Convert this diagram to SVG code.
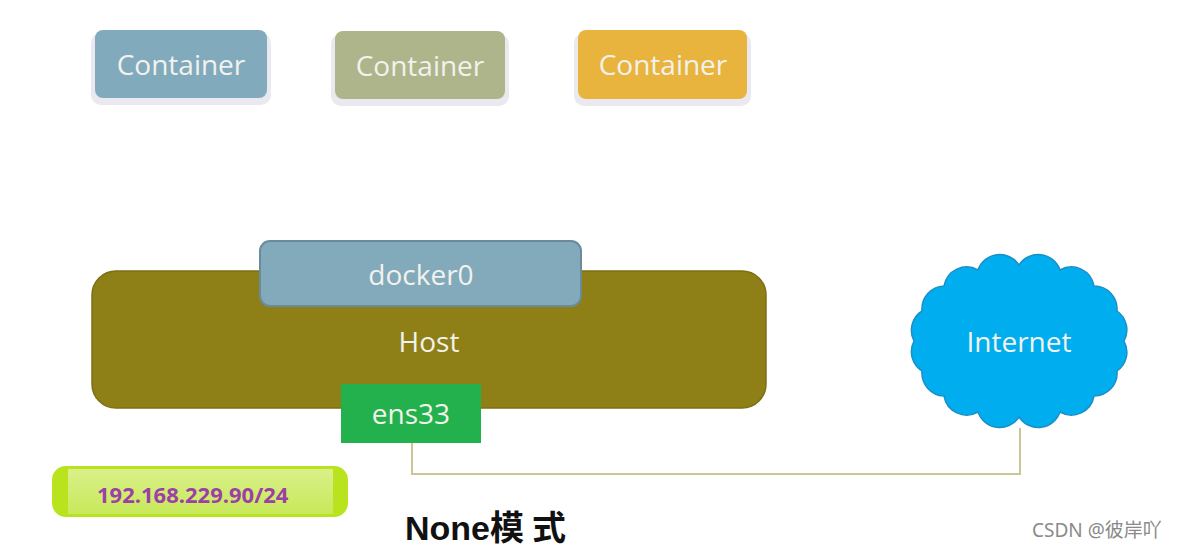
<svg xmlns="http://www.w3.org/2000/svg" width="1177" height="549" viewBox="0 0 1177 549">
  <defs>
    <style>
      .lbl { font-family: "Open Sans", "Liberation Sans", sans-serif; font-size: 28px; fill: #f2f2ec; text-anchor: middle; }
      .shadow { fill: #e9e9ef; }
      .wire { fill: none; stroke: #cbc792; stroke-width: 2; }
    </style>
    <linearGradient id="ipInner" x1="0" y1="0" x2="0" y2="1">
      <stop offset="0" stop-color="#d9f08a"/>
      <stop offset="1" stop-color="#c8e95a"/>
    </linearGradient>
  </defs>
  <rect width="1177" height="549" fill="#ffffff"/>

  <!-- containers -->
  <g id="container-1">
    <rect class="shadow" x="91" y="33" width="180" height="72" rx="10"/>
    <rect x="95" y="30" width="172" height="68" rx="8" fill="#82aabd"/>
    <text class="lbl" x="181" y="75">Container</text>
  </g>
  <g id="container-2">
    <rect class="shadow" x="331" y="34" width="178" height="72" rx="10"/>
    <rect x="335" y="31" width="170" height="68" rx="8" fill="#afb58b"/>
    <text class="lbl" x="420" y="76">Container</text>
  </g>
  <g id="container-3">
    <rect class="shadow" x="574" y="33" width="177" height="73" rx="10"/>
    <rect x="578" y="30" width="169" height="69" rx="8" fill="#e8b43e"/>
    <text class="lbl" x="663" y="75">Container</text>
  </g>

  <!-- connectors -->
  <g id="connectors">
    <polyline class="wire" points="412,443 412,474 1020,474 1020,428"/>
  </g>

  <!-- host with docker0 bridge and ens33 interface -->
  <g id="host">
    <rect x="92" y="271" width="674" height="137" rx="24" fill="#8f7f17" stroke="#7d6f12" stroke-width="1.5"/>
    <text class="lbl" x="429" y="352">Host</text>
  </g>
  <g id="docker0">
    <rect x="260" y="241" width="321" height="65" rx="10" fill="#82aabb" stroke="#6a8c9a" stroke-width="2"/>
    <text class="lbl" x="421" y="285">docker0</text>
  </g>
  <g id="ens33">
    <rect x="341" y="384" width="140" height="59" fill="#22b14c"/>
    <text class="lbl" x="411" y="424">ens33</text>
  </g>

  <!-- internet cloud -->
  <g id="internet">
    <path d="M914,341 A23,23 0 0 1 922,311 A23,23 0 0 1 944,286 A23,23 0 0 1 978,270 A23,23 0 0 1 1019,265 A23,23 0 0 1 1060,270 A23,23 0 0 1 1094,286 A23,23 0 0 1 1117,311 A23,23 0 0 1 1124,341 A23,23 0 0 1 1117,371 A23,23 0 0 1 1094,396 A23,23 0 0 1 1060,412 A23,23 0 0 1 1019,417 A23,23 0 0 1 978,412 A23,23 0 0 1 944,396 A23,23 0 0 1 922,371 A23,23 0 0 1 914,341 Z" fill="#00aeef" stroke="#1a8fc8" stroke-width="1.5"/>
    <text class="lbl" x="1019" y="352">Internet</text>
  </g>

  <!-- ip address tag -->
  <g id="ip-tag">
    <rect x="52" y="466" width="296" height="51" rx="14" fill="#b9e31c"/>
    <rect x="68" y="469" width="265" height="45" fill="url(#ipInner)"/>
    <text x="97" y="503" font-family="'Open Sans', 'Liberation Sans', sans-serif" font-size="22" font-weight="bold" fill="#9c3fa6">192.168.229.90/24</text>
  </g>

  <!-- caption -->
  <text x="405" y="540" font-family="'Liberation Sans', 'Noto Sans CJK SC', sans-serif" font-size="34" font-weight="bold" fill="#111111">None模<tspan dx="8">式</tspan></text>

  <!-- watermark -->
  <text x="1032" y="537" font-family="'Noto Sans', 'Noto Sans CJK SC', sans-serif" font-size="19" fill="#8a8a8a">CSDN @彼岸吖</text>
</svg>
